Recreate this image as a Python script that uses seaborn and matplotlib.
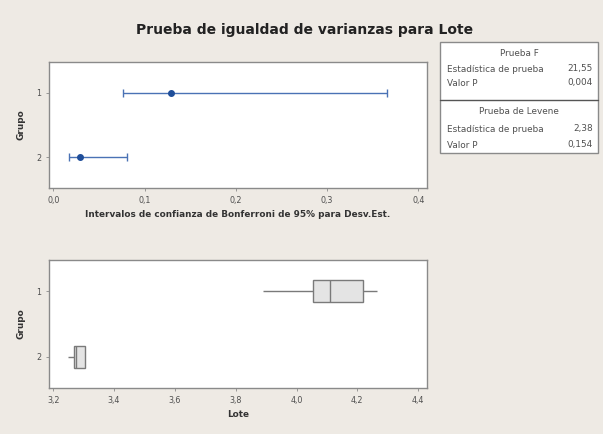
import numpy as np
import matplotlib
matplotlib.use('Agg')
import matplotlib.pyplot as plt
import seaborn as sns
from matplotlib.patches import Rectangle
from matplotlib.ticker import FuncFormatter

# data
groups = ['1', '2']
sd_point = [0.1286, 0.0289]
sd_low = [0.0764, 0.0175]
sd_high = [0.3657, 0.0807]
# five-number summaries of Lote per group (min, Q1, median, Q3, max)
lote_g1 = [3.890, 4.054, 4.110, 4.219, 4.264]
lote_g2 = [3.248, 3.268, 3.275, 3.304, 3.304]
top_ticks = [0.0, 0.1, 0.2, 0.3, 0.4]
bottom_ticks = [3.2, 3.4, 3.6, 3.8, 4.0, 4.2, 4.4]
f_test = [('Estadística de prueba', '21,55'), ('Valor P', '0,004')]
levene_test = [('Estadística de prueba', '2,38'), ('Valor P', '0,154')]

BG = '#eeeae4'
EDGE = '#8a8a8a'
TXT = '#505050'

sns.set_theme(style='white')
plt.rcParams['font.family'] = ['DejaVu Sans']

fig = plt.figure(figsize=(6.03, 4.34), dpi=100, facecolor=BG)
ax1 = fig.add_axes([49 / 603, 1 - 188 / 434, 378 / 603, 126 / 434])
ax2 = fig.add_axes([49 / 603, 1 - 388 / 434, 378 / 603, 128 / 434])

comma = FuncFormatter(lambda v, p: f'{v:.1f}'.replace('.', ','))


def style_axes(ax):
    ax.set_facecolor('white')
    for s in ax.spines.values():
        s.set_color(EDGE)
        s.set_linewidth(1.0)
    ax.tick_params(axis='both', which='major', direction='out', length=2.5, width=0.6,
                   color=EDGE, labelsize=5.8, labelcolor=TXT, pad=3, bottom=True, left=True)
    ax.xaxis.set_major_formatter(comma)


# top: confidence intervals for the standard deviation
ypos = np.arange(len(groups))
xerr = [np.array(sd_point) - np.array(sd_low), np.array(sd_high) - np.array(sd_point)]
ax1.errorbar(sd_point, ypos, xerr=xerr, fmt='o', color='#1f4e9a', ecolor='#4a72b5',
             elinewidth=1.0, capsize=3, capthick=1.0, markersize=4)
ax1.set_yticks(ypos)
ax1.set_yticklabels(groups)
ax1.set_ylim(1.48, -0.48)
ax1.set_xticks(top_ticks)
ax1.set_xlim(-0.0047, 0.4095)
style_axes(ax1)
ax1.set_ylabel('Grupo', fontsize=6.4, fontweight='bold', color='#333333', labelpad=8)
ax1.set_xlabel('Intervalos de confianza de Bonferroni de 95% para Desv.Est.', fontsize=6.4,
               fontweight='bold', color='#333333', labelpad=4)

# bottom: boxplots of Lote
box_y = [groups[0]] * len(lote_g1) + [groups[1]] * len(lote_g2)
sns.boxplot(x=lote_g1 + lote_g2, y=box_y, order=groups, orient='h', ax=ax2, width=0.34,
            whis=np.inf, color='#e4e4e4', linecolor='#7a7a7a', linewidth=1.0, saturation=1,
            showcaps=False)
ax2.set_ylim(1.48, -0.48)
ax2.set_xticks(bottom_ticks)
ax2.set_xlim(3.186, 4.429)
style_axes(ax2)
ax2.set_ylabel('Grupo', fontsize=6.4, fontweight='bold', color='#333333', labelpad=8)
ax2.set_xlabel('Lote', fontsize=6.4, fontweight='bold', color='#333333', labelpad=4)

fig.text(0.505, 1 - 30 / 434, 'Prueba de igualdad de varianzas para Lote', ha='center',
         va='center', fontsize=10, fontweight='bold', color='#222222')

# statistics table on the right
tx0, tx1 = 440, 598
ty0, ty_mid, ty1 = 42, 100, 153
fig.patches.append(Rectangle((tx0 / 603, 1 - ty1 / 434), (tx1 - tx0) / 603, (ty1 - ty0) / 434,
                             transform=fig.transFigure, facecolor='white', edgecolor=EDGE,
                             linewidth=1.0, figure=fig))
fig.lines.append(plt.Line2D([tx0 / 603, tx1 / 603], [1 - ty_mid / 434] * 2,
                            transform=fig.transFigure, color='#555555', linewidth=1.0))


def table_block(title, rows, y_title, y_rows):
    fig.text((tx0 + tx1) / 2 / 603, 1 - y_title / 434, title, ha='center', va='center',
             fontsize=6.4, color=TXT)
    for (name, val), yy in zip(rows, y_rows):
        fig.text(447 / 603, 1 - yy / 434, name, ha='left', va='center', fontsize=6.4, color=TXT)
        fig.text(593 / 603, 1 - yy / 434, val, ha='right', va='center', fontsize=6.4, color=TXT)


table_block('Prueba F', f_test, 54, [69, 83])
table_block('Prueba de Levene', levene_test, 112, [129, 145])

fig.savefig('out.png', dpi=100, facecolor=BG)
